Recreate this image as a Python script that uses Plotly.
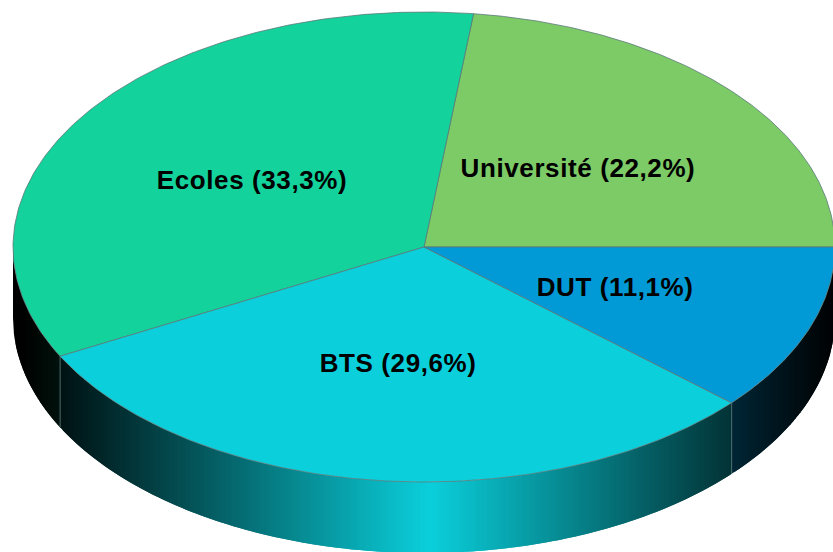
import numpy as np
import plotly.graph_objects as go

# Data (percent labels as printed; slices start at 3 o'clock, counter-clockwise)
categories = ["Université", "Ecoles", "BTS", "DUT"]
values = [22.2, 33.3, 29.6, 11.1]
value_labels = ["22,2%", "33,3%", "29,6%", "11,1%"]

# Style / layout
top_colors = ["#7dcb67", "#14d29b", "#0bd0dc", "#029ad6"]
side_rgb = [(125, 203, 103), (20, 210, 155), (11, 208, 220), (2, 154, 214)]
label_xy = [(578, 168), (252, 180), (398, 363), (615, 287)]
CX, CY, RX, RY, DEPTH = 424, 247, 411, 235, 71
EDGE = "#5a7878"
W, H = 833, 552


def px(t):
    return CX + RX * np.cos(t)


def py(t):
    return CY - RY * np.sin(t)


spans = np.array(values) / sum(values) * 2 * np.pi
starts = np.concatenate([[0], np.cumsum(spans)[:-1]])

fig = go.Figure()


def shade(x):
    u = abs(x - 430) / RX
    return max(0.0, 1 - min(u, 1)) ** 1.05


# Rim strips, left to right, each overlapped by the next one
for s, sp, rgb in zip(starts, spans, side_rgb):
    a, b = max(s, np.pi), min(s + sp, 2 * np.pi)
    if b <= a:
        continue
    n = int(np.ceil((px(b) - px(a)) / 2.5))
    xs = np.linspace(px(a), px(b), n + 1)
    ts = 2 * np.pi - np.arccos(np.clip((xs - CX) / RX, -1, 1))
    ts[0], ts[-1] = a, b
    for i in range(n):
        k = shade((xs[i] + xs[i + 1]) / 2)
        col = "rgb(%d,%d,%d)" % tuple(int(c * k) for c in rgb)
        tt = np.linspace(ts[i], ts[min(i + 2, n)], 8)
        x = np.concatenate([px(tt), px(tt[::-1]), [px(tt[0])]])
        y = np.concatenate([py(tt), py(tt[::-1]) + DEPTH, [py(tt[0])]])
        fig.add_trace(go.Scatter(x=x, y=y, mode="lines", fill="toself", fillcolor=col,
                                 line=dict(width=0), hoverinfo="skip", showlegend=False))
    # Seam between rim sections
    if s > np.pi:
        fig.add_trace(go.Scatter(x=[px(a), px(a)], y=[py(a), py(a) + DEPTH], mode="lines",
                                 line=dict(color=EDGE, width=0.8), hoverinfo="skip",
                                 showlegend=False))

# Top slices
for s, sp, col in zip(starts, spans, top_colors):
    ts = np.linspace(s, s + sp, 200)
    x = np.concatenate([[CX], px(ts), [CX]])
    y = np.concatenate([[CY], py(ts), [CY]])
    fig.add_trace(go.Scatter(x=x, y=y, mode="lines", fill="toself", fillcolor=col,
                             line=dict(color=EDGE, width=0.8), hoverinfo="skip",
                             showlegend=False))

# Labels
for name, lab, (lx, ly) in zip(categories, value_labels, label_xy):
    fig.add_annotation(x=lx, y=ly, text=f"<b>{name} ({lab})</b>", showarrow=False,
                       font=dict(family="Liberation Sans", size=26, color="#000000"))

fig.update_layout(
    width=W, height=H, margin=dict(l=0, r=0, t=0, b=0),
    paper_bgcolor="white", plot_bgcolor="white", showlegend=False,
    xaxis=dict(range=[0, W], visible=False, fixedrange=True),
    yaxis=dict(range=[H, 0], visible=False, fixedrange=True),
)
post = """
document.body.style.margin = '0';
document.body.style.overflow = 'hidden';
var st = document.createElement('style');
st.textContent = '.annotation-text{letter-spacing:0.6px}';
document.head.appendChild(st);
"""
fig.write_html("out.html", config=dict(displayModeBar=False), post_script=post)
